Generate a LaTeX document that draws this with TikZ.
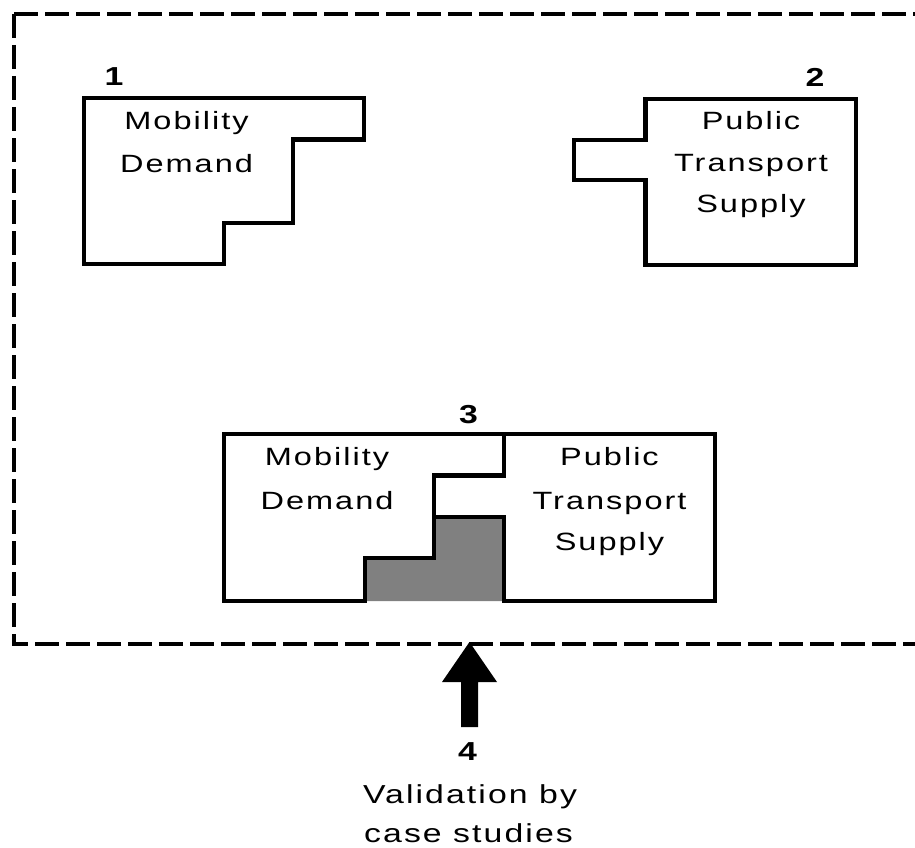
\documentclass[tikz,border=0pt]{standalone}
\usepackage{fontspec}
\setmainfont{Liberation Sans}[FakeStretch=1.3, LetterSpace=8]
\begin{document}
\begin{tikzpicture}[x=1pt, y=-1pt,
  piece/.style={draw=black, line width=4.5pt, line join=miter},
  overlap/.style={fill=black!50},
  outerframe/.style={draw=black, line width=4.4pt, dash pattern=on 24pt off 7pt},
  boxtext/.style={anchor=base, inner sep=0pt, font=\fontsize{25}{30}\selectfont},
  numtext/.style={anchor=base, inner sep=0pt, font=\fontsize{26}{30}\selectfont\bfseries},
  notetext/.style={anchor=base, inner sep=0pt, font=\fontsize{26}{32}\selectfont}]
\useasboundingbox (0,0) rectangle (915,848);
\clip (0,0) rectangle (915,848);

% dashed frame, open to the right
\draw[outerframe] (14,14) -- (940,14);
\draw[outerframe] (14,14) -- (14,644) -- (940,644);

% 1: mobility demand piece
\draw[piece] (84,98) -- (364,98) -- (364,139.5) -- (293,139.5) -- (293,223)
  -- (224,223) -- (224,264) -- (84,264) -- cycle;
\node[numtext] (n1) at (114,85.5) {1};
\node[boxtext] (d1a) at (186.5,129) {Mobility};
\node[boxtext] (d1b) at (186.5,172) {Demand};

% 2: public transport supply piece
\draw[piece] (645.5,99) -- (856,99) -- (856,265) -- (645.5,265) -- (645.5,180)
  -- (574,180) -- (574,140) -- (645.5,140) -- cycle;
\node[numtext] (n2) at (815,86.5) {2};
\node[boxtext] (s2a) at (751,130) {Public};
\node[boxtext] (s2b) at (751,171.5) {Transport};
\node[boxtext] (s2c) at (751,212.5) {Supply};

% 3: both pieces joined, the gap between them shaded
\fill[overlap] (434,517) -- (504,517) -- (504,601) -- (365,601) -- (365,558)
  -- (434,558) -- cycle;
\draw[piece] (504,434) -- (715,434) -- (715,601) -- (504,601) -- (504,517)
  -- (434,517) -- (434,475.5) -- (504,475.5) -- cycle;
\draw[piece] (224,434) -- (504,434) -- (504,475.5) -- (434,475.5) -- (434,558)
  -- (365,558) -- (365,601) -- (224,601) -- cycle;
\node[numtext] (n3) at (468.5,423) {3};
\node[boxtext] (d3a) at (327,465.7) {Mobility};
\node[boxtext] (d3b) at (327,509.3) {Demand};
\node[boxtext] (s3a) at (609.5,465.7) {Public};
\node[boxtext] (s3b) at (609.5,509.3) {Transport};
\node[boxtext] (s3c) at (609.5,550.5) {Supply};

% 4: validation arrow pointing into the frame
\coordinate (arrowtip) at (469.5,642);
\fill (arrowtip) -- ++(27.5,40) -- ++(-19,0) -- ++(0,45) -- ++(-17,0)
  -- ++(0,-45) -- ++(-19,0) -- cycle;
\node[numtext] (n4) at (467.5,760) {4};
\node[notetext] (v1) at (470,803) {Validation by};
\node[notetext] (v2) at (468.5,842) {case studies};
\end{tikzpicture}
\end{document}
